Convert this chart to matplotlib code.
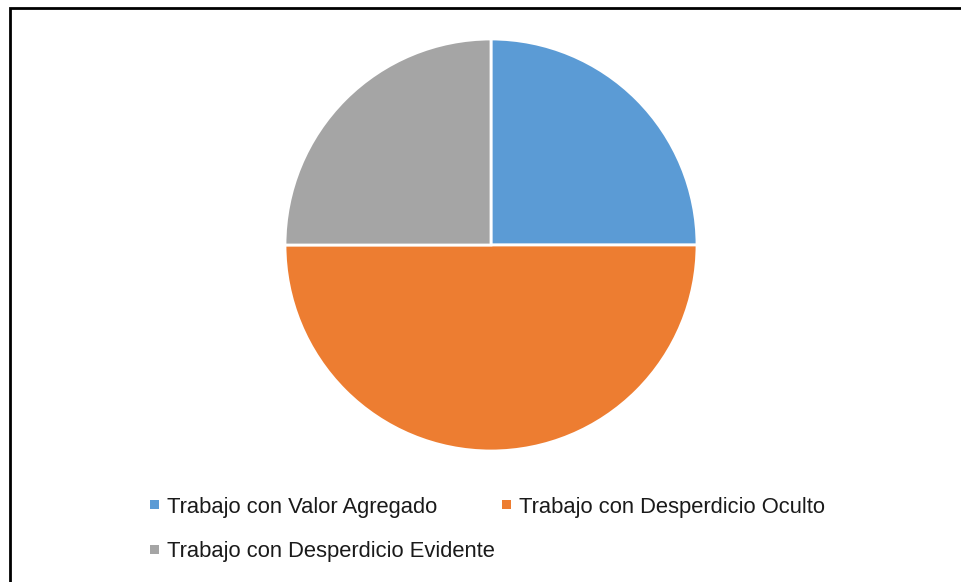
import matplotlib
matplotlib.use("Agg")
import matplotlib.pyplot as plt
from matplotlib.patches import Rectangle

# datos del gráfico
categorias = ["Trabajo con Valor Agregado",
              "Trabajo con Desperdicio Oculto",
              "Trabajo con Desperdicio Evidente"]
valores = [25, 50, 25]
colores = ["#5B9BD5", "#ED7D31", "#A5A5A5"]

W, H = 961, 582
fig = plt.figure(figsize=(W / 100, H / 100), dpi=100)
plt.rcParams['font.family'] = ['Liberation Sans', 'DejaVu Sans']

# borde del área del gráfico
fig.add_artist(Rectangle((9.5 / W, -0.1), 1.2, 1.1 - 7.5 / H,
                         transform=fig.transFigure, fill=False,
                         edgecolor="black", linewidth=2.0))

# pastel
cx, cy, r = 491, 245, 206
ax = fig.add_axes([(cx - r) / W, (H - cy - r) / H, 2 * r / W, 2 * r / H])
ax.pie(valores, colors=colores, startangle=90, counterclock=False,
       radius=1, wedgeprops=dict(edgecolor="white", linewidth=2.0))
ax.set_xlim(-1, 1)
ax.set_ylim(-1, 1)
ax.axis("off")

# leyenda (posiciones en píxeles: x del marcador, y del centro)
pos_leyenda = [(150, 504.5), (502, 504.5), (150, 549.5)]
lado = 9
for (x, y), nombre, c in zip(pos_leyenda, categorias, colores):
    fig.add_artist(Rectangle((x / W, (H - y - lado / 2) / H), lado / W, lado / H,
                             transform=fig.transFigure, facecolor=c,
                             edgecolor="none"))
    fig.text((x + 17) / W, (H - y) / H, nombre, fontsize=15.8,
             va="center_baseline", ha="left", color="#1a1a1a")

fig.savefig("out.png", dpi=100)
